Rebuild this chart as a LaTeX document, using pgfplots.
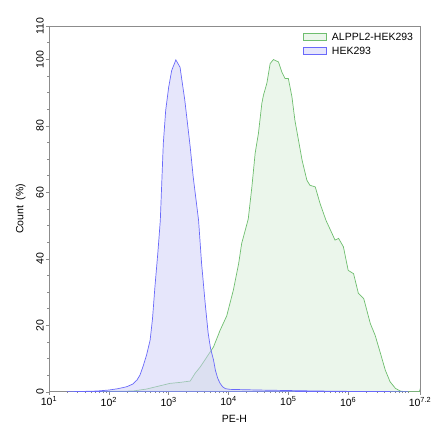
\documentclass[border=0pt]{standalone}
\usepackage{pgfplots}
\pgfplotsset{compat=1.18}
\usepackage{fontspec}
\setmainfont{Liberation Sans}
\definecolor{gline}{RGB}{110,190,110}
\definecolor{gfill}{RGB}{232,244,232}
\definecolor{bline}{RGB}{105,105,250}
\definecolor{bfill}{RGB}{205,205,248}
\definecolor{frame}{RGB}{140,140,140}
\begin{document}
\begin{tikzpicture}
\path[use as bounding box] (0,0) rectangle (440pt,440pt);
\begin{axis}[
  at={(49pt,48.3pt)}, anchor=south west,
  scale only axis, width=371pt, height=365.7pt,
  xmin=1, xmax=7.2, ymin=0, ymax=110,
  /pgf/number format/assume math mode=true,
  xtick={1,2,3,4,5,6,7.2},
  xticklabels={10\textsuperscript{1},10\textsuperscript{2},10\textsuperscript{3},10\textsuperscript{4},10\textsuperscript{5},10\textsuperscript{6},10\textsuperscript{7.2}},
  minor xtick={1.301,1.477,1.602,1.699,1.778,1.845,1.903,1.954,
    2.301,2.477,2.602,2.699,2.778,2.845,2.903,2.954,
    3.301,3.477,3.602,3.699,3.778,3.845,3.903,3.954,
    4.301,4.477,4.602,4.699,4.778,4.845,4.903,4.954,
    5.301,5.477,5.602,5.699,5.778,5.845,5.903,5.954,
    6.301,6.477,6.602,6.699,6.778,6.845,6.903,6.954,7},
  ytick={0,20,40,60,80,100,110},
  minor ytick={5,10,15,25,30,35,45,50,55,65,70,75,85,90,95,105},
  tick align=outside, tick pos=left,
  major tick length=3pt, minor tick length=1.5pt,
  every tick/.style={frame, line width=0.4pt},
  axis line style={frame, line width=0.9pt},
  tick label style={font=\fontsize{10.5}{12}\selectfont, black},
  yticklabel style={rotate=90, anchor=south, inner sep=2pt},
  xticklabel style={inner sep=2pt},
  xlabel={PE-H}, ylabel={Count\ \ (\%)},
  label style={font=\fontsize{10.5}{12}\selectfont},
  xlabel style={at={(axis description cs:0.5,0)}, anchor=north, yshift=-20pt},
  ylabel style={at={(axis description cs:0,0.5)}, anchor=south, yshift=20pt},
  legend style={at={(rel axis cs:0.99,0.99)}, anchor=north east, draw=none, fill=none,
    font=\fontsize{10.5}{12}\selectfont, row sep=1pt, inner sep=1pt},
  legend cell align=left,
  legend image code/.code={\draw[#1] (0pt,-3.5pt) rectangle (23pt,3.5pt); \path (26pt,0pt);},
]
\addplot[draw=gline, line width=0.7pt, fill=gfill, fill opacity=0.85] coordinates {
(1.4,0)(2.0,0.1)(2.4,0.2)(2.63,0.8)(2.86,1.8)(3.02,2.5)(3.19,2.8)(3.36,3.2)(3.44,5.5)(3.53,7.5)(3.64,10.5)(3.75,13.5)(3.86,18.5)(3.97,22.8)(4.08,30.5)(4.17,38.6)(4.22,44.6)(4.31,50.6)(4.33,52)(4.39,61.5)(4.445,71.7)(4.50,77.7)(4.557,86.7)(4.584,89.2)(4.64,92.7)(4.696,98.7)(4.75,99.9)(4.835,99.2)(4.89,96.2)(4.946,94.2)(5.0,94.2)(5.06,88.7)(5.11,81.6)(5.17,75.6)(5.23,69.6)(5.31,63.6)(5.36,62.1)(5.45,61.6)(5.53,56.6)(5.63,51.5)(5.73,47.6)(5.78,45.6)(5.84,46.1)(5.92,43.6)(6.0,36.5)(6.09,35.5)(6.17,29.6)(6.26,28.0)(6.37,20.5)(6.45,17.0)(6.54,11.5)(6.62,6.5)(6.70,3.0)(6.79,1.0)(6.87,0.2)(6.95,0)(7.19,0)(7.2,0.6)
} \closedcycle;
\addlegendentry{ALPPL2-HEK293}
\addplot[draw=bline, line width=0.7pt, fill=bfill, fill opacity=0.5] coordinates {
(1.3,0)(1.5,0.05)(1.8,0.2)(2.0,0.5)(2.15,0.9)(2.3,1.5)(2.4,2.3)(2.47,3.5)(2.52,5)(2.57,7.5)(2.63,11)(2.69,15.5)(2.73,22)(2.77,31.5)(2.82,42)(2.86,51.5)(2.91,74.6)(2.95,84.6)(3.0,91.6)(3.05,96.6)(3.12,99.8)(3.19,97.6)(3.27,87.6)(3.36,73.6)(3.41,64.6)(3.5,51.5)(3.55,38.6)(3.61,26.6)(3.66,17.6)(3.70,13)(3.75,9.5)(3.78,6.5)(3.82,4)(3.86,2.5)(3.9,1.5)(3.95,0.9)(4.03,0.7)(4.5,0.5)(5.0,0.35)(5.5,0.2)(6.0,0.1)(6.5,0.05)(7.0,0)
} \closedcycle;
\addlegendentry{HEK293}
\end{axis}
\end{tikzpicture}
\end{document}
